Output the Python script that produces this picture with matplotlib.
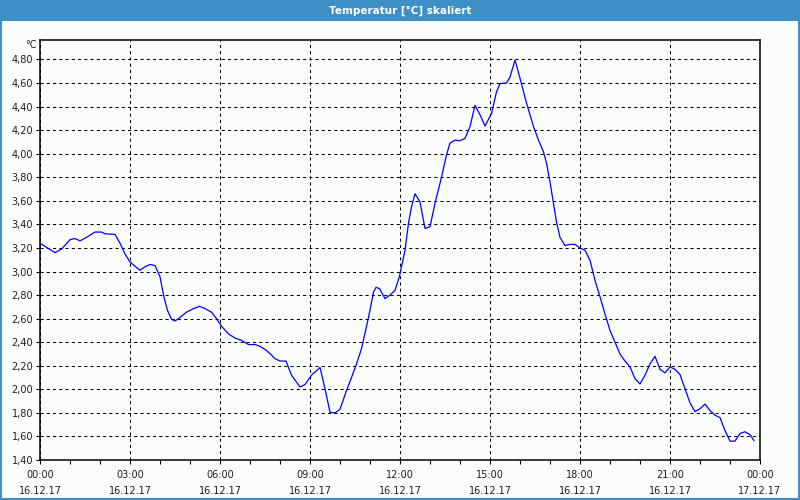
import matplotlib
matplotlib.use("Agg")
import matplotlib.pyplot as plt
from matplotlib.patches import Rectangle
from matplotlib.ticker import FixedLocator, FuncFormatter

# Minutes since 16.12.17 00:00
minutes = [0, 30, 43, 60, 70, 80, 93, 110, 123, 130, 150, 160, 170, 180, 200, 210, 220, 230,
           240, 248, 255, 263, 270, 280, 293, 307, 319, 330, 343, 353, 363, 377, 390, 403,
           417, 430, 440, 453, 463, 470, 480, 492, 503, 520, 530, 543, 560, 570, 580, 590,
           600, 613, 623, 633, 643, 657, 667, 672, 679, 690, 700, 710, 719, 730, 737, 743,
           750, 760, 770, 780, 790, 803, 813, 820, 830, 840, 850, 860, 870, 880, 890, 903,
           913, 920, 933, 940, 950, 960, 973, 987, 997, 1007, 1013, 1020, 1027, 1033, 1040,
           1050, 1060, 1070, 1080, 1090, 1100, 1110, 1120, 1130, 1140, 1150, 1160, 1170,
           1180, 1190, 1200, 1210, 1220, 1230, 1240, 1250, 1260, 1270, 1280, 1290, 1300,
           1310, 1320, 1330, 1340, 1350, 1360, 1370, 1380, 1390, 1400, 1410, 1420, 1428]
temperature = [3.24, 3.16, 3.19, 3.27, 3.28, 3.26, 3.29, 3.335, 3.335, 3.32, 3.315, 3.24, 3.15,
               3.08, 3.01, 3.04, 3.06, 3.05, 2.955, 2.78, 2.67, 2.595, 2.58, 2.61, 2.655, 2.685,
               2.705, 2.685, 2.655, 2.60, 2.535, 2.47, 2.435, 2.415, 2.38, 2.38, 2.365, 2.33,
               2.29, 2.26, 2.24, 2.24, 2.12, 2.02, 2.04, 2.12, 2.185, 2.005, 1.805, 1.80, 1.83,
               1.99, 2.10, 2.215, 2.345, 2.61, 2.825, 2.865, 2.855, 2.77, 2.80, 2.84, 2.96,
               3.18, 3.41, 3.55, 3.66, 3.59, 3.365, 3.38, 3.58, 3.80, 3.99, 4.09, 4.115, 4.11,
               4.13, 4.23, 4.41, 4.33, 4.235, 4.34, 4.525, 4.595, 4.60, 4.65, 4.795, 4.64,
               4.43, 4.23, 4.115, 4.015, 3.92, 3.76, 3.575, 3.42, 3.29, 3.22, 3.23, 3.23, 3.20,
               3.18, 3.095, 2.925, 2.785, 2.64, 2.50, 2.40, 2.30, 2.24, 2.19, 2.09, 2.045,
               2.12, 2.215, 2.28, 2.17, 2.14, 2.19, 2.17, 2.125, 2.005, 1.885, 1.81, 1.835,
               1.875, 1.82, 1.78, 1.76, 1.65, 1.56, 1.56, 1.625, 1.64, 1.615, 1.565]

y_ticks = [1.4 + 0.2 * i for i in range(18)]
x_tick_minutes = [0, 180, 360, 540, 720, 900, 1080, 1260, 1440]
x_tick_labels = ["00:00\n16.12.17", "03:00\n16.12.17", "06:00\n16.12.17", "09:00\n16.12.17",
                 "12:00\n16.12.17", "15:00\n16.12.17", "18:00\n16.12.17", "21:00\n16.12.17",
                 "00:00\n17.12.17"]
title = "Temperatur [°C] skaliert"
unit = "°C"

bar_blue = "#3d8fc6"
bg = "#fbfdfb"
txt = "#1e1e1e"

fig = plt.figure(figsize=(8, 5), dpi=100, facecolor=bg)
# title bar
fig.patches.append(Rectangle((0, 0.958), 1, 0.042, transform=fig.transFigure,
                             facecolor=bar_blue, edgecolor="none", zorder=0))
# outer border
fig.patches.append(Rectangle((0.001, 0.002), 0.998, 0.996, transform=fig.transFigure,
                             facecolor="none", edgecolor=bar_blue, linewidth=1.5, zorder=1))
fig.text(0.5, 0.979, title, color="white", fontsize=7.5, fontweight="bold",
         ha="center", va="center", family="DejaVu Sans")

ax = fig.add_axes([0.05, 0.08, 0.90, 0.84])
ax.set_facecolor(bg)
ax.plot(minutes, temperature, color="#0000ff", linewidth=0.9, zorder=3)

ax.set_xlim(0, 1440)
ax.set_ylim(1.4, 4.965)

ax.yaxis.set_major_locator(FixedLocator(y_ticks))
ax.yaxis.set_major_formatter(FuncFormatter(lambda v, p: f"{v:.2f}".replace(".", ",")))
ax.set_xticks(x_tick_minutes)
ax.set_xticklabels(x_tick_labels, linespacing=1.75)
ax.xaxis.set_minor_locator(FixedLocator([m for m in range(0, 1441, 60)]))

ax.tick_params(axis="both", which="both", direction="out", length=3, width=0.8,
               color="black", labelsize=7, labelcolor=txt)
ax.tick_params(axis="x", which="major", pad=4)
ax.tick_params(axis="y", which="major", pad=2)

ax.grid(True, which="major", color="black", linestyle=(0, (3.0, 3.0)), linewidth=0.75)
for s in ax.spines.values():
    s.set_color("black")
    s.set_linewidth(1.1)

ax.text(-0.004, 0.988, unit, transform=ax.transAxes, ha="right", va="center",
        fontsize=7, color=txt)

fig.savefig("out.png", dpi=100, facecolor=bg)
